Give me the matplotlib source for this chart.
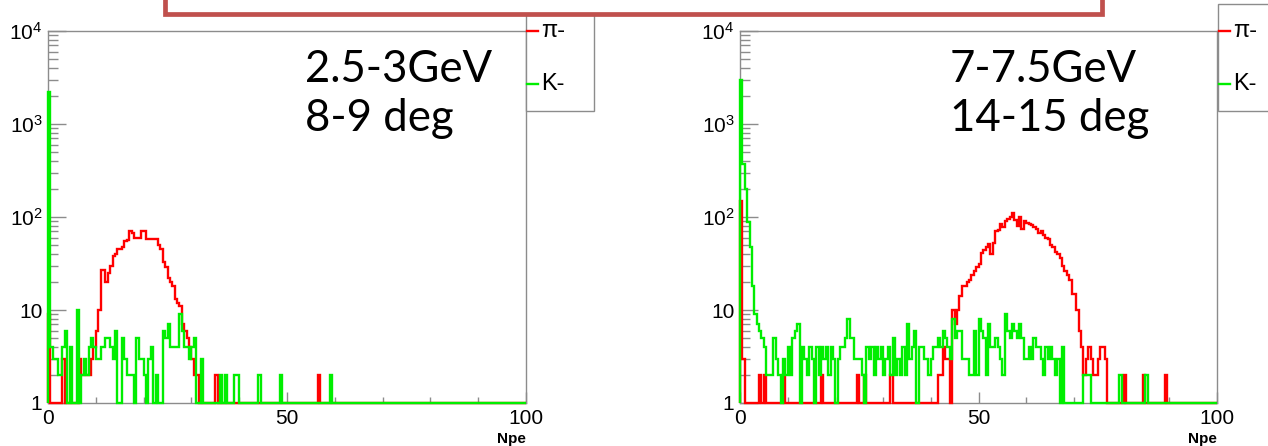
import numpy as np
import matplotlib
matplotlib.use("Agg")
import matplotlib.pyplot as plt
from matplotlib.patches import Rectangle
from matplotlib.ticker import FixedLocator, FixedFormatter, NullFormatter

plt.rcParams['font.family'] = ['Liberation Sans', 'DejaVu Sans']
plt.rcParams['mathtext.fontset'] = 'custom'
plt.rcParams['mathtext.rm'] = 'Liberation Sans'

# ---------------- data (counts per 0.5 Npe bin, 0..100) ----------------
bin_edges = np.linspace(0, 100, 201)

pi_left = [
    9, 0, 0, 0, 0, 0, 3, 0, 0, 0, 0, 0, 0, 3, 2, 2, 2, 2, 3, 4,
    6, 10, 27, 27, 20, 25, 30, 38, 40, 45, 45, 48, 55, 57, 70, 67, 60, 60, 60, 70,
    70, 58, 58, 58, 58, 58, 50, 45, 33, 29, 22, 20, 18, 13, 12, 11, 7, 6, 5, 4,
    3, 2, 2, 0, 0, 0, 0, 0, 0, 0, 2, 0, 0, 0, 0, 0, 0, 0, 0, 0,
    0, 0, 0, 0, 0, 0, 0, 0, 0, 0, 0, 0, 0, 0, 0, 0, 0, 0, 0, 0,
    0, 0, 0, 0, 0, 0, 0, 0, 0, 0, 0, 0, 0, 2, 0, 0, 0, 0, 0, 0,
    0, 0, 0, 0, 0, 0, 0, 0, 0, 0, 0, 0, 0, 0, 0, 0, 0, 0, 0, 0,
    0, 0, 0, 0, 0, 0, 0, 0, 0, 0, 0, 0, 0, 0, 0, 0, 0, 0, 0, 0,
    0, 0, 0, 0, 0, 0, 0, 0, 0, 0, 0, 0, 0, 0, 0, 0, 0, 0, 0, 0,
    0, 0, 0, 0, 0, 0, 0, 0, 0, 0, 0, 0, 0, 0, 0, 0, 0, 0, 0, 0,
]

k_left = [
    2200, 4, 3, 3, 2, 2, 4, 6, 1, 4, 1, 1, 10, 1, 2, 3, 2, 4, 5, 4,
    3, 3, 4, 4, 5, 5, 4, 3, 6, 1, 1, 5, 3, 2, 2, 2, 1, 5, 3, 3,
    2, 1, 3, 4, 1, 2, 1, 1, 6, 5, 7, 4, 4, 4, 4, 9, 6, 4, 4, 3,
    4, 5, 1, 1, 3, 0, 0, 0, 0, 0, 0, 0, 2, 0, 2, 0, 0, 0, 2, 2,
    0, 0, 0, 0, 0, 0, 0, 0, 2, 0, 0, 0, 0, 0, 0, 0, 0, 2, 0, 0,
    0, 0, 0, 0, 0, 0, 0, 0, 0, 0, 0, 0, 0, 0, 0, 0, 0, 0, 2, 0,
    0, 0, 0, 0, 0, 0, 0, 0, 0, 0, 0, 0, 0, 0, 0, 0, 0, 0, 0, 0,
    0, 0, 0, 0, 0, 0, 0, 0, 0, 0, 0, 0, 0, 0, 0, 0, 0, 0, 0, 0,
    0, 0, 0, 0, 0, 0, 0, 0, 0, 0, 0, 0, 0, 0, 0, 0, 0, 0, 0, 0,
    0, 0, 0, 0, 0, 0, 0, 0, 0, 0, 0, 0, 0, 0, 0, 0, 0, 0, 0, 0,
]

pi_right = [
    150, 3, 0, 0, 0, 0, 0, 0, 2, 0, 2, 0, 0, 0, 0, 0, 0, 0, 2, 0,
    0, 0, 0, 0, 0, 0, 0, 0, 0, 0, 0, 0, 0, 0, 2, 0, 0, 0, 0, 0,
    0, 0, 0, 0, 0, 0, 0, 0, 0, 2, 0, 0, 2, 0, 0, 0, 0, 0, 0, 0,
    0, 0, 0, 2, 0, 0, 0, 0, 0, 0, 0, 0, 0, 0, 0, 0, 0, 0, 0, 0,
    0, 0, 0, 2, 2, 4, 3, 3, 1, 10, 7, 10, 14, 18, 18, 20, 21, 24, 26, 29,
    31, 41, 44, 48, 51, 40, 52, 70, 72, 85, 78, 90, 95, 100, 110, 92, 80, 100, 75, 90,
    87, 85, 82, 78, 75, 68, 70, 64, 60, 58, 50, 48, 42, 40, 36, 30, 26, 24, 21, 15,
    15, 10, 6, 4, 2, 3, 4, 3, 2, 2, 3, 4, 4, 3, 0, 0, 0, 0, 0, 0,
    0, 2, 0, 0, 0, 0, 0, 0, 0, 2, 0, 0, 0, 0, 0, 0, 0, 0, 2, 0,
    0, 0, 0, 0, 0, 0, 0, 0, 0, 0, 0, 0, 0, 0, 0, 0, 0, 0, 0, 0,
]

k_right = [
    3000, 370, 200, 88, 48, 18, 9, 7, 6, 5, 4, 2, 2, 2, 5, 3, 2, 1, 3, 2,
    4, 2, 5, 6, 7, 1, 4, 3, 2, 4, 3, 1, 4, 2, 4, 3, 4, 2, 4, 3,
    1, 3, 4, 4, 5, 8, 5, 5, 3, 3, 3, 2, 1, 4, 3, 4, 2, 4, 3, 4,
    2, 3, 4, 2, 5, 2, 3, 2, 4, 2, 7, 3, 4, 6, 1, 4, 4, 3, 3, 2,
    3, 4, 4, 5, 4, 6, 5, 4, 3, 8, 5, 6, 6, 3, 3, 3, 2, 2, 6, 2,
    8, 6, 5, 2, 7, 4, 4, 5, 4, 3, 2, 9, 6, 5, 7, 6, 5, 7, 5, 3,
    3, 4, 3, 5, 4, 4, 3, 2, 4, 3, 4, 3, 2, 3, 1, 4, 0, 0, 0, 0,
    0, 0, 0, 0, 2, 2, 2, 0, 0, 0, 0, 0, 0, 0, 0, 0, 0, 0, 0, 2,
    0, 0, 0, 0, 0, 0, 0, 0, 0, 0, 2, 0, 0, 0, 0, 0, 0, 0, 0, 0,
    0, 0, 0, 0, 0, 0, 0, 0, 0, 0, 0, 0, 0, 0, 0, 0, 0, 0, 0, 0,
]

labels_left = ["2.5-3GeV", "8-9 deg"]
labels_right = ["7-7.5GeV", "14-15 deg"]
legend_labels = ["\u03c0-", "K-"]
x_label = "Npe"

# ---------------- figure ----------------
W, H = 1268, 446
fig = plt.figure(figsize=(W / 100, H / 100), dpi=100)
GRAY = "#8c8c8c"
RED = "#ff0000"
GREEN = "#00ee00"
LW = 1.7


def px_axes(x0, y0, x1, y1, **kw):
    return fig.add_axes([x0 / W, 1 - y1 / H, (x1 - x0) / W, (y1 - y0) / H], **kw)


def draw_panel(ax, pi_counts, k_counts):
    ax.set_yscale("log")
    ax.set_xlim(0, 100)
    ax.set_ylim(1, 1e4)
    ax.stairs(np.maximum(pi_counts, 1), bin_edges, baseline=1,
              color=RED, lw=LW, clip_on=False, zorder=3)
    ax.stairs(np.maximum(k_counts, 1), bin_edges, baseline=1,
              color=GREEN, lw=LW, clip_on=False, zorder=4)
    for s in ax.spines.values():
        s.set_color(GRAY)
        s.set_linewidth(1.0)
    ax.xaxis.set_major_locator(FixedLocator([0, 50, 100]))
    ax.xaxis.set_major_formatter(FixedFormatter(["0", "50", "100"]))
    ax.xaxis.set_minor_locator(FixedLocator([10, 20, 30, 40, 60, 70, 80, 90]))
    yt = [1, 10, 100, 1000, 10000]
    ax.yaxis.set_major_locator(FixedLocator(yt))
    ax.yaxis.set_major_formatter(FixedFormatter(
        ["1", "10", r"$\mathregular{10^{2}}$", r"$\mathregular{10^{3}}$",
         r"$\mathregular{10^{4}}$"]))
    minors = [m * 10 ** d for d in range(4) for m in range(2, 10)]
    ax.yaxis.set_minor_locator(FixedLocator(minors))
    ax.yaxis.set_minor_formatter(NullFormatter())
    ax.tick_params(axis="x", which="major", direction="in", length=8, width=1,
                   color=GRAY, labelsize=15, pad=4, top=False)
    ax.tick_params(axis="x", which="minor", direction="in", length=4, width=1,
                   color=GRAY, top=False)
    ax.tick_params(axis="y", which="major", direction="in", length=13, width=1,
                   color=GRAY, labelsize=15, pad=4, right=False)
    ax.tick_params(axis="y", which="minor", direction="in", length=7, width=1,
                   color=GRAY, right=False)
    ax.text(1.0, -0.077, x_label, transform=ax.transAxes, ha="right", va="top",
            fontsize=11, fontweight="bold")


axL = px_axes(48, 31, 526, 403)
draw_panel(axL, pi_left, k_left)
axR = px_axes(740, 31, 1217, 403)
draw_panel(axR, pi_right, k_right)

# overlay in pixel coordinates
ov = fig.add_axes([0, 0, 1, 1], zorder=10)
ov.set_xlim(0, W)
ov.set_ylim(H, 0)
ov.axis("off")
ov.patch.set_alpha(0)


def legend_box(x0, x1, y0, y1):
    ov.add_patch(Rectangle((x0, y0), x1 - x0, y1 - y0, facecolor="white",
                           edgecolor=GRAY, lw=1.0, clip_on=False, zorder=1))
    ov.plot([x0 + 1, x0 + 12], [31, 31], color=RED, lw=LW, zorder=2)
    ov.plot([x0 + 1, x0 + 12], [84, 84], color=GREEN, lw=LW, zorder=2)
    ov.text(x0 + 15, 31, legend_labels[0], fontsize=17, va="center", ha="left", zorder=2)
    ov.text(x0 + 15, 84, legend_labels[1], fontsize=17, va="center", ha="left", zorder=2)


legend_box(526, 594, -20, 111)
legend_box(1218, 1290, 4, 111)

# title box (cut off at top)
ov.add_patch(Rectangle((165, -40), 1102 - 165, 40 + 14, facecolor="white",
                       edgecolor="#c0504d", lw=3.4, zorder=5, clip_on=True))

tfont = dict(fontsize=31.5, family=["Lato", "DejaVu Sans"], ha="left",
             va="baseline", color="black", zorder=6)
ov.text(305, 82, labels_left[0], **tfont)
ov.text(305, 131, labels_left[1], **tfont)
ov.text(950, 82, labels_right[0], **tfont)
ov.text(950, 131, labels_right[1], **tfont)

fig.savefig("out.png", dpi=100)
